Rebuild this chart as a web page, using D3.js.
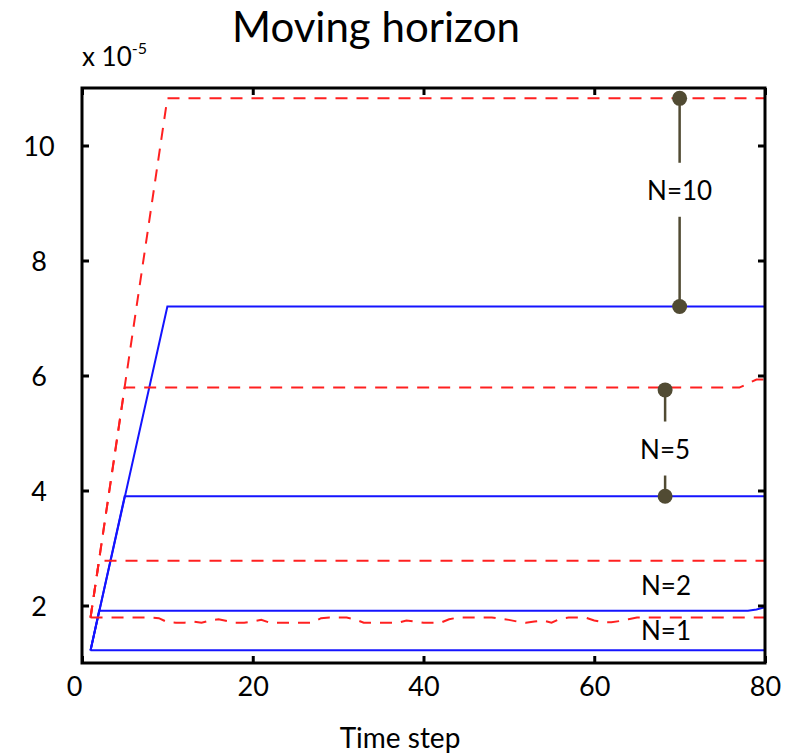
<!DOCTYPE html>
<html>
<head>
<meta charset="utf-8">
<script src="https://cdn.jsdelivr.net/npm/d3@7"></script>
<style>
  html, body { margin: 0; padding: 0; background: #fff; }
  svg { display: block; }
  text { font-family: Lato, "Open Sans", sans-serif; fill: #000; }
</style>
</head>
<body>
<svg id="chart" width="788" height="756"></svg>
<script>
// Axis ticks
const xTicks = [0, 20, 40, 60, 80];
const yTicks = [2, 4, 6, 8, 10];

// Series: [time step, value x 1e-5]
const blueN1  = [[1, 1.22], [80, 1.22]];
const blueN2  = [[1, 1.22], [2, 1.91], [78, 1.91], [79, 1.93], [80, 1.97]];
const blueN5  = [[1, 1.22], [5, 3.90], [80, 3.90]];
const blueN10 = [[1, 1.22], [10, 7.20], [80, 7.20]];

const redN1 = [
  [1, 1.79], [8, 1.79], [9, 1.78], [10, 1.71], [11, 1.70], [12, 1.70], [13, 1.72],
  [14, 1.70], [15, 1.74], [16, 1.76], [17, 1.73], [18, 1.70], [19, 1.70], [20, 1.72],
  [21, 1.75], [22, 1.70], [23, 1.70], [24, 1.70], [25, 1.70], [26, 1.70], [27, 1.70],
  [28, 1.78], [29, 1.79], [30, 1.79], [31, 1.79], [32, 1.76], [33, 1.70], [34, 1.70],
  [35, 1.70], [36, 1.70], [37, 1.70], [38, 1.74], [39, 1.72], [40, 1.70], [41, 1.70],
  [42, 1.70], [43, 1.76], [44, 1.79], [45, 1.79], [46, 1.79], [47, 1.79], [48, 1.79],
  [49, 1.77], [50, 1.75], [51, 1.72], [52, 1.70], [53, 1.72], [54, 1.74], [55, 1.70],
  [56, 1.77], [57, 1.79], [58, 1.79], [59, 1.79], [60, 1.74], [61, 1.71], [62, 1.71],
  [63, 1.73], [64, 1.76], [65, 1.79], [80, 1.79]
];
const redN2  = [[1, 1.79], [2, 2.78], [80, 2.78]];
const redN5  = [[1, 1.79], [5, 5.79], [77, 5.79], [78, 5.86], [79, 5.93], [80, 5.93]];
const redN10 = [[1, 1.79], [10, 10.82], [80, 10.82]];

// Bracket annotations linking the two curves of one horizon length
const brackets = [
  { label: "N=10", t: 70,   hi: 10.82, lo: 7.20, labelAt: 9.23 },
  { label: "N=5",  t: 68.3, hi: 5.75,  lo: 3.90, labelAt: 4.73 }
];
// Plain labels
const plainLabels = [
  { label: "N=2", t: 68.4, at: 2.35 },
  { label: "N=1", t: 68.4, at: 1.57 }
];

const svg = d3.select("#chart");
const plotLeft = 82, plotRight = 765, plotTop = 88, plotBottom = 663;

const x = d3.scaleLinear().domain([0, 80]).range([plotLeft, plotRight]);
const y = d3.scaleLinear().domain([1, 11]).range([plotBottom, plotTop]);

const line = d3.line().x(d => x(d[0])).y(d => y(d[1]));

const plot = svg.append("g");

// Solid blue curves
[blueN1, blueN2, blueN5, blueN10].forEach(s => {
  plot.append("path").datum(s)
    .attr("d", line)
    .attr("fill", "none")
    .attr("stroke", "#1414ff")
    .attr("stroke-width", 2);
});

// Dashed red curves
[redN1, redN2, redN5, redN10].forEach(s => {
  plot.append("path").datum(s)
    .attr("d", line)
    .attr("fill", "none")
    .attr("stroke", "#ff2020")
    .attr("stroke-width", 2)
    .attr("stroke-dasharray", "12,9");
});

// Axis frame with inward ticks on all four sides
const tickLen = 7;
const axB = d3.axisBottom(x).tickValues(xTicks).tickSize(-tickLen).tickPadding(14);
const axT = d3.axisTop(x).tickValues(xTicks).tickSize(-tickLen).tickFormat("");
const axL = d3.axisLeft(y).tickValues(yTicks).tickSize(-tickLen).tickFormat("");
const axR = d3.axisRight(y).tickValues(yTicks).tickSize(-tickLen).tickFormat("");

function styleAxis(g) {
  g.select(".domain").remove();
  g.selectAll(".tick line").attr("stroke", "#000").attr("stroke-width", 3);
}

const gB = svg.append("g").attr("transform", `translate(0,${plotBottom})`).call(axB).call(styleAxis);
gB.selectAll(".tick text")
  .attr("font-size", 27).attr("font-family", "Lato, sans-serif").attr("fill", "#000")
  .attr("dy", "0.71em");
gB.selectAll(".tick text").filter(d => d === 0).attr("text-anchor", "end");

svg.append("g").attr("transform", `translate(0,${plotTop})`).call(axT).call(styleAxis);
svg.append("g").attr("transform", `translate(${plotLeft},0)`).call(axL).call(styleAxis);
svg.append("g").attr("transform", `translate(${plotRight},0)`).call(axR).call(styleAxis);

// Y tick labels, centred in the left margin
svg.append("g").selectAll("text").data(yTicks).join("text")
  .attr("x", 39)
  .attr("y", d => y(d))
  .attr("text-anchor", "middle")
  .attr("dominant-baseline", "central")
  .attr("font-size", 27)
  .text(d => d);

svg.append("rect")
  .attr("x", plotLeft).attr("y", plotTop)
  .attr("width", plotRight - plotLeft).attr("height", plotBottom - plotTop)
  .attr("fill", "none").attr("stroke", "#000").attr("stroke-width", 3);

// Exponent marker
const expo = svg.append("text").attr("x", 82).attr("y", 66).attr("font-size", 26);
expo.append("tspan").text("x 10");
expo.append("tspan").attr("font-size", 16).attr("dy", -12).text("-5");

// Title and x label
svg.append("text").attr("x", 376).attr("y", 42)
  .attr("text-anchor", "middle").attr("font-size", 42).text("Moving horizon");
svg.append("text").attr("x", 400).attr("y", 748)
  .attr("text-anchor", "middle").attr("font-size", 28).text("Time step");

// Annotations
const annColor = "#514b33";
const gap = 27;
const ann = svg.append("g");
brackets.forEach(b => {
  const cx = x(b.t), yl = y(b.labelAt);
  ann.append("line").attr("x1", cx).attr("x2", cx)
    .attr("y1", y(b.hi)).attr("y2", yl - gap)
    .attr("stroke", annColor).attr("stroke-width", 2.5);
  ann.append("line").attr("x1", cx).attr("x2", cx)
    .attr("y1", yl + gap).attr("y2", y(b.lo))
    .attr("stroke", annColor).attr("stroke-width", 2.5);
  [b.hi, b.lo].forEach(v => {
    ann.append("circle").attr("cx", cx).attr("cy", y(v)).attr("r", 7.5).attr("fill", annColor);
  });
  ann.append("text").attr("x", cx).attr("y", yl)
    .attr("text-anchor", "middle").attr("dominant-baseline", "central")
    .attr("font-size", 26).text(b.label);
});
plainLabels.forEach(p => {
  ann.append("text").attr("x", x(p.t)).attr("y", y(p.at))
    .attr("text-anchor", "middle").attr("dominant-baseline", "central")
    .attr("font-size", 26).text(p.label);
});
</script>
</body>
</html>
